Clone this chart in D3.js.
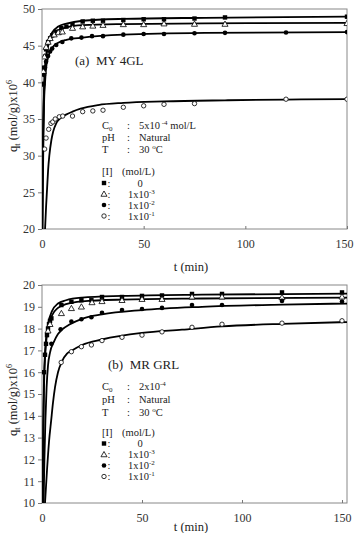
<!DOCTYPE html>
<html>
<head>
<meta charset="utf-8">
<script src="https://cdn.jsdelivr.net/npm/d3@7"></script>
<style>
  body { margin: 0; background: #fff; }
  svg { display: block; font-family: "Liberation Serif", "DejaVu Serif", serif; }
  .tick text { font-family: "Liberation Serif", serif; font-size: 12px; fill: #333; }
  .tick line { stroke: #777; }
  .lab { font-size: 10.5px; fill: #222; }
</style>
</head>
<body>
<svg id="chart" width="354" height="533"></svg>
<script>
// ---- panel (a) MY 4GL : measured points [t (min), q]
const a_sq = [[0.5,39.8],[1,42],[1.5,43.5],[2,44.5],[3,45.5],[4,46],[5,46.4],[7,46.9],[9.5,47.4],[12,47.6],[15,47.9],[20,48.3],[25,48.4],[30,48.4],[40,48.5],[50,48.6],[60,48.6],[75,48.7],[90,48.85],[150,48.95]];
const a_tri = [[0.7,41.5],[1.2,43.5],[2,44.8],[3,45.5],[4,46],[6,46.5],[8,46.8],[10,46.9],[15,47.4],[20,47.6],[25,47.7],[30,47.8],[40,47.9],[50,47.9],[60,48.0],[75,47.95],[90,47.95],[150,48.05]];
const a_dot = [[0.5,39.7],[1,41],[1.5,42],[2,42.8],[3,43.6],[4,44.2],[5,44.6],[7,45.1],[10,45.5],[14.4,46.0],[19.4,46.1],[24.6,46.3],[30,46.3],[40,46.5],[50,46.6],[60,46.6],[75,46.7],[90,46.75],[120,46.8],[150,46.85]];
const a_circ = [[1.3,30.9],[2,32.4],[3.3,33.6],[4.4,34.4],[5.3,34.6],[6.5,35.0],[8.5,35.3],[10.2,35.4],[15,35.4],[20,36.0],[25,36.1],[30,36.2],[40,36.6],[50,36.8],[60,37.0],[75,37.1],[120,37.7],[150,37.7]];
// fitted curves (a)
const a_fit_sq = [[0.15,20],[0.3,27],[0.5,32.5],[0.8,37],[1.2,40.5],[2,43.6],[3,45.3],[5,46.8],[8,47.6],[12,48.0],[20,48.4],[40,48.65],[80,48.8],[150,48.95]];
const a_fit_tri = [[0.16,20],[0.3,26.5],[0.5,32],[0.8,36.5],[1.2,40],[2,43.2],[3,44.9],[5,46.3],[8,47.1],[12,47.5],[20,47.8],[40,47.95],[80,48.05],[150,48.1]];
const a_fit_dot = [[0.2,20],[0.4,26],[0.7,32],[1,37],[1.5,40],[2,41.9],[3,43.4],[5,44.7],[8,45.4],[12,45.8],[20,46.1],[40,46.5],[80,46.75],[150,46.85]];
const a_fit_circ = [[1.5,20],[2,23],[2.5,25.5],[3,28],[3.6,30],[4.6,32.1],[5.5,33.3],[7,34.4],[9,35.1],[11.8,35.6],[15,36.0],[19,36.4],[27.6,36.9],[40,37.2],[60,37.4],[90,37.55],[120,37.65],[150,37.7]];

// ---- panel (b) MR GRL
const b_sq = [[1,16.0],[1.5,16.8],[2,17.3],[2.5,17.7],[3,18.0],[3.5,18.2],[4,18.35],[4.7,18.47],[9.7,19.08],[14.7,19.23],[19.7,19.3],[24.7,19.3],[30,19.45],[40,19.45],[50,19.5],[60,19.52],[75,19.59],[90,19.59],[120,19.66],[150,19.66]];
const b_tri = [[3,17.9],[4,18.2],[9.7,18.7],[14.7,18.93],[19.7,19.0],[25,19.2],[30,19.25],[40,19.3],[50,19.35],[60,19.35],[75,19.46],[90,19.46],[120,19.43],[150,19.46]];
const b_dot = [[4.7,17.3],[9.3,17.97],[14.7,18.32],[19.7,18.43],[24.7,18.52],[30,18.73],[40,18.85],[50,18.9],[60,18.95],[75,19.08],[90,19.08],[120,19.27],[150,19.24]];
const b_circ = [[9.6,16.45],[14.7,16.94],[19.7,17.17],[24.7,17.25],[30,17.45],[40,17.6],[50,17.7],[60,17.85],[75,18.06],[90,18.2],[120,18.25],[150,18.36]];
const b_fit_sq = [[0.3,10],[0.6,13.5],[1,15.7],[1.5,16.9],[2,17.5],[3,18.2],[5,18.8],[8,19.15],[12,19.3],[20,19.42],[40,19.5],[80,19.56],[152.5,19.6]];
const b_fit_tri = [[0.35,10],[0.7,13.5],[1,15.3],[1.5,16.6],[2,17.3],[3,18.0],[5,18.6],[8,18.95],[12,19.12],[20,19.25],[40,19.33],[80,19.38],[152.5,19.42]];
const b_fit_dot = [[0.8,10],[1.2,12],[1.7,13.8],[2.3,15.3],[3,16.3],[4,16.9],[6,17.4],[8,17.75],[10,17.95],[14,18.2],[20,18.45],[30,18.65],[50,18.85],[80,19.0],[120,19.1],[152.5,19.15]];
const b_fit_circ = [[1.5,10],[2.5,11.5],[3.5,12.8],[4.6,13.8],[5.5,14.6],[6.5,15.3],[8,16.0],[10,16.5],[12.5,16.85],[15,17.0],[20,17.25],[30,17.5],[50,17.8],[70,17.95],[90,18.1],[120,18.22],[152.5,18.3]];

const xTicks = [0, 50, 100, 150];
const aYTicks = [20, 25, 30, 35, 40, 45, 50];
const bYTicks = [10, 11, 12, 13, 14, 15, 16, 17, 18, 19, 20];
const legendVals = ["0", "-3", "-2", "-1"];

const svg = d3.select("#chart");

function marker(g, kind, x, y) {
  if (kind === "sq") {
    g.append("rect").attr("x", x - 2.2).attr("y", y - 2.2).attr("width", 4.4).attr("height", 4.4).attr("fill", "#000");
  } else if (kind === "tri") {
    g.append("path").attr("d", d3.symbol().type(d3.symbolTriangle).size(16)())
      .attr("transform", "translate(" + x + "," + (y + 0.5) + ")")
      .attr("fill", "#fff").attr("stroke", "#000").attr("stroke-width", 0.8);
  } else if (kind === "dot") {
    g.append("circle").attr("cx", x).attr("cy", y).attr("r", 2.3).attr("fill", "#000");
  } else {
    g.append("circle").attr("cx", x).attr("cy", y).attr("r", 2.2).attr("fill", "#fff").attr("stroke", "#000").attr("stroke-width", 0.8);
  }
}

function drawPanel(cfg) {
  const x = d3.scaleLinear().domain(cfg.xDom).range([42, 347]);
  const y = d3.scaleLinear().domain(cfg.yDom).range(cfg.yRange);
  const g = svg.append("g");

  const clipId = "clip" + cfg.id;
  g.append("clipPath").attr("id", clipId).append("rect")
    .attr("x", 42).attr("y", cfg.yRange[1]).attr("width", 305).attr("height", cfg.yRange[0] - cfg.yRange[1]);

  // frame
  g.append("rect").attr("x", 42).attr("y", cfg.yRange[1]).attr("width", 305)
    .attr("height", cfg.yRange[0] - cfg.yRange[1]).attr("fill", "none").attr("stroke", "#888").attr("stroke-width", 1);

  const yAx = g.append("g").attr("transform", "translate(42,0)")
    .call(d3.axisLeft(y).tickValues(cfg.yTicks).tickSize(4).tickPadding(3));
  yAx.select(".domain").remove();
  yAx.attr("font-family", null);

  const xAx = g.append("g").attr("transform", "translate(0," + cfg.yRange[0] + ")")
    .call(d3.axisBottom(x).tickValues(xTicks).tickSize(-3).tickPadding(10));
  xAx.select(".domain").remove();
  xAx.attr("font-family", null);
  // keep the last label inside the page
  xAx.selectAll(".tick text").filter(d => x(d) > 344).attr("dx", -3);

  const line = d3.line().x(d => x(d[0])).y(d => y(d[1])).curve(d3.curveMonotoneX);
  const plot = g.append("g").attr("clip-path", "url(#" + clipId + ")");
  cfg.fits.forEach(f => {
    plot.append("path").datum(f).attr("d", line).attr("fill", "none")
      .attr("stroke", "#000").attr("stroke-width", 1.8);
  });
  cfg.series.forEach(s => {
    s.data.forEach(d => marker(plot, s.kind, x(d[0]), y(d[1])));
  });

  // axis titles
  const yt = g.append("text").attr("transform", "translate(17," + cfg.yTitleY + ") rotate(-90)")
    .attr("text-anchor", "middle").style("font-size", "12.5px").attr("fill", "#222");
  yt.append("tspan").text("q");
  yt.append("tspan").attr("dy", 3).style("font-size", "8px").text("t");
  yt.append("tspan").attr("dy", -3).text(" (mol/g)x10");
  yt.append("tspan").attr("dy", -5).style("font-size", "8px").text("6");

  g.append("text").attr("x", 191).attr("y", cfg.xTitleY).attr("text-anchor", "middle")
    .style("font-size", "12.5px").attr("fill", "#222").text("t (min)");

  // panel title
  g.append("text").attr("x", cfg.titleX).attr("y", cfg.titleY).style("font-size", "13px")
    .attr("fill", "#222").attr("xml:space", "preserve").text(cfg.title);

  // condition block
  const r = cfg.rows;
  const c0 = g.append("text").attr("class", "lab").attr("x", 102).attr("y", r[0]);
  c0.append("tspan").text("C");
  c0.append("tspan").attr("dy", 1.5).style("font-size", "7px").text("0");
  g.append("text").attr("class", "lab").attr("x", 127).attr("y", r[0]).text(":");
  const cv = g.append("text").attr("class", "lab").attr("x", 139).attr("y", r[0]);
  cv.append("tspan").text(cfg.c0[0]);
  cv.append("tspan").attr("dy", -4).style("font-size", "7px").text(cfg.c0[1]);
  cv.append("tspan").attr("dy", 4).text(cfg.c0[2]);

  g.append("text").attr("class", "lab").attr("x", 102).attr("y", r[1]).text("pH");
  g.append("text").attr("class", "lab").attr("x", 127).attr("y", r[1]).text(":");
  g.append("text").attr("class", "lab").attr("x", 139).attr("y", r[1]).text("Natural");
  g.append("text").attr("class", "lab").attr("x", 102).attr("y", r[2]).text("T");
  g.append("text").attr("class", "lab").attr("x", 127).attr("y", r[2]).text(":");
  const tv = g.append("text").attr("class", "lab").attr("x", 139).attr("y", r[2]);
  tv.append("tspan").text("30 ");
  tv.append("tspan").attr("dy", -4).style("font-size", "7px").text("o");
  tv.append("tspan").attr("dy", 4).text("C");

  g.append("text").attr("class", "lab").attr("x", 102).attr("y", r[3]).text("[I]");
  g.append("text").attr("class", "lab").attr("x", 122).attr("y", r[3]).text("(mol/L)");

  const kinds = ["sq", "tri", "dot", "circ"];
  kinds.forEach((k, i) => {
    const yy = r[4 + i];
    marker(g, k, 104, yy - 3.5);
    g.append("text").attr("class", "lab").attr("x", 107.5).attr("y", yy).text(":");
    if (i === 0) {
      g.append("text").attr("class", "lab").attr("x", 140).attr("y", yy).attr("text-anchor", "middle").text(legendVals[i]);
    } else {
      const t = g.append("text").attr("class", "lab").attr("x", 128).attr("y", yy);
      t.append("tspan").text("1x10");
      t.append("tspan").attr("dy", -4).style("font-size", "7px").text(legendVals[i]);
    }
  });
}

drawPanel({
  id: "a", xDom: [0, 150], yDom: [20, 50], yRange: [229, 9], yTicks: aYTicks,
  fits: [a_fit_sq, a_fit_tri, a_fit_dot, a_fit_circ],
  series: [{kind: "sq", data: a_sq}, {kind: "tri", data: a_tri}, {kind: "dot", data: a_dot}, {kind: "circ", data: a_circ}],
  yTitleY: 116, xTitleY: 271, title: "(a)  MY 4GL", titleX: 75, titleY: 65,
  c0: ["5x10", " -4", " mol/L"],
  rows: [129, 141, 153, 175, 186.5, 197.5, 208.5, 219.5]
});

drawPanel({
  id: "b", xDom: [0, 152.5], yDom: [10, 20], yRange: [503, 285], yTicks: bYTicks,
  fits: [b_fit_sq, b_fit_tri, b_fit_dot, b_fit_circ],
  series: [{kind: "sq", data: b_sq}, {kind: "tri", data: b_tri}, {kind: "dot", data: b_dot}, {kind: "circ", data: b_circ}],
  yTitleY: 400, xTitleY: 531, title: "(b)  MR GRL", titleX: 108, titleY: 369,
  c0: ["2x10", "-4", ""],
  rows: [390, 403, 416, 436, 447, 458, 469, 480]
});
</script>
</body>
</html>
